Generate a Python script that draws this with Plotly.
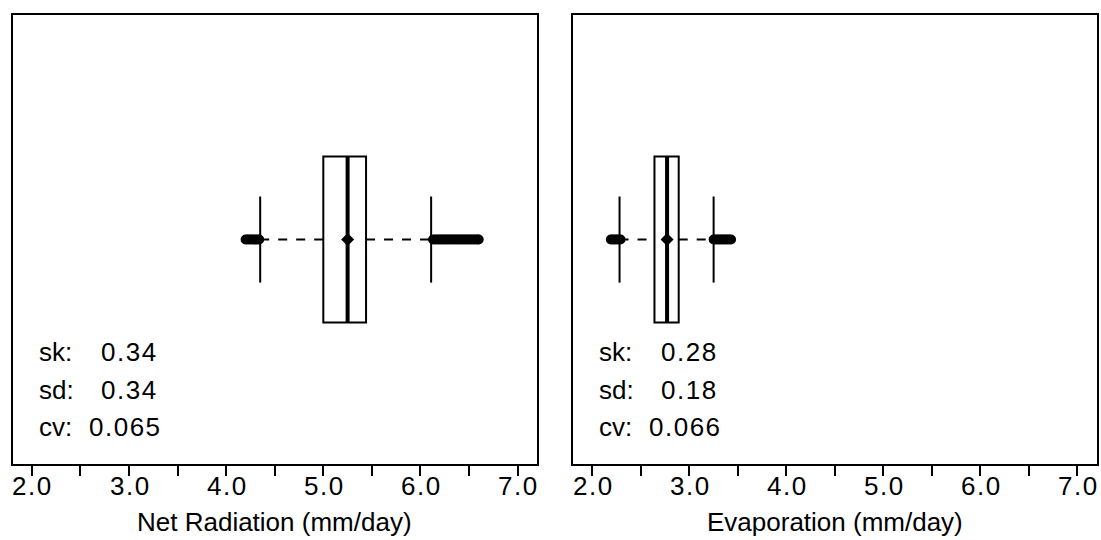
import plotly.graph_objects as go

# Summary statistics for the two distributions (mm/day)
panels = ["Net Radiation (mm/day)", "Evaporation (mm/day)"]

nr_q1, nr_median, nr_q3 = 5.00, 5.25, 5.44
nr_whisker_lo, nr_whisker_hi = 4.35, 6.11
nr_mean = 5.25
nr_outliers_lo = [4.20, 4.22, 4.24, 4.26, 4.28, 4.30, 4.32, 4.34]
nr_outliers_hi = [6.13, 6.15, 6.17, 6.19, 6.21, 6.23, 6.25, 6.27, 6.29, 6.31,
                  6.33, 6.35, 6.37, 6.39, 6.41, 6.43, 6.45, 6.47, 6.49, 6.51,
                  6.53, 6.55, 6.57, 6.59, 6.60]
nr_labels = ["sk:", "sd:", "cv:"]
nr_values = ["0.34", "0.34", "0.065"]

ev_q1, ev_median, ev_q3 = 2.64, 2.77, 2.89
ev_whisker_lo, ev_whisker_hi = 2.28, 3.25
ev_mean = 2.77
ev_outliers_lo = [2.19, 2.21, 2.23, 2.25, 2.27, 2.29]
ev_outliers_hi = [3.25, 3.27, 3.29, 3.31, 3.33, 3.35, 3.37, 3.39, 3.41, 3.43]
ev_labels = ["sk:", "sd:", "cv:"]
ev_values = ["0.28", "0.18", "0.066"]

tick_vals = [2.0, 3.0, 4.0, 5.0, 6.0, 7.0]
tick_text = ["2.0", "3.0", "4.0", "5.0", "6.0", "7.0"]
minor_tick_vals = [2.5, 3.5, 4.5, 5.5, 6.5]

FONT = "Liberation Sans, Arial, sans-serif"
BLACK = "#000000"
FS = 26


def wide(s):
    """Numbers are set slightly spaced out."""
    return f'<span style="letter-spacing:1.5px">{s}</span>'


datasets = [
    dict(q1=nr_q1, med=nr_median, q3=nr_q3, lo=nr_whisker_lo, hi=nr_whisker_hi,
         mean=nr_mean, out_lo=nr_outliers_lo, out_hi=nr_outliers_hi,
         labels=nr_labels, values=nr_values),
    dict(q1=ev_q1, med=ev_median, q3=ev_q3, lo=ev_whisker_lo, hi=ev_whisker_hi,
         mean=ev_mean, out_lo=ev_outliers_lo, out_hi=ev_outliers_hi,
         labels=ev_labels, values=ev_values),
]

fig = go.Figure()
shapes = []
annotations = []

W, H = 1101, 540
x_domains = [[12.5 / W, 537.0 / W], [573.0 / W, 1096.7 / W]]
y_domain = [(H - 464.0) / H, (H - 15.0) / H]
TICKLABEL_Y = (H - 486.0) / H
TITLE_Y = (H - 522.0) / H

Y_MID = 0.5
BOX_HALF = 0.185
CAP_HALF = 0.096

for i, d in enumerate(datasets):
    xa = "x" if i == 0 else "x2"
    ya = "y" if i == 0 else "y2"
    xdom = f"{xa} domain"
    ydom = f"{ya} domain"

    # box
    shapes.append(dict(type="rect", xref=xa, yref=ya, x0=d["q1"], x1=d["q3"],
                       y0=Y_MID - BOX_HALF, y1=Y_MID + BOX_HALF,
                       line=dict(color=BLACK, width=2), fillcolor="rgba(0,0,0,0)"))
    # median
    shapes.append(dict(type="line", xref=xa, yref=ya, x0=d["med"], x1=d["med"],
                       y0=Y_MID - BOX_HALF, y1=Y_MID + BOX_HALF,
                       line=dict(color=BLACK, width=4)))
    # dashed whiskers
    for a, b in [(d["lo"], d["q1"]), (d["q3"], d["hi"])]:
        shapes.append(dict(type="line", xref=xa, yref=ya, x0=a, x1=b,
                           y0=Y_MID, y1=Y_MID,
                           line=dict(color=BLACK, width=2, dash="dash")))
    # whisker caps
    for v in (d["lo"], d["hi"]):
        shapes.append(dict(type="line", xref=xa, yref=ya, x0=v, x1=v,
                           y0=Y_MID - CAP_HALF, y1=Y_MID + CAP_HALF,
                           line=dict(color=BLACK, width=2)))

    # outliers
    outs = d["out_lo"] + d["out_hi"]
    fig.add_trace(go.Scatter(
        x=outs, y=[Y_MID] * len(outs), xaxis=xa, yaxis=ya, mode="markers",
        marker=dict(symbol="circle-open", size=7, color=BLACK,
                    line=dict(width=3, color=BLACK)),
        showlegend=False, hoverinfo="x"))
    # mean
    fig.add_trace(go.Scatter(
        x=[d["mean"]], y=[Y_MID], xaxis=xa, yaxis=ya, mode="markers",
        marker=dict(symbol="diamond", size=10, color=BLACK),
        showlegend=False, hoverinfo="x"))

    # statistics text
    rows_y = [352, 390, 427]
    for lab, val, py in zip(d["labels"], d["values"], rows_y):
        yd = (464.0 - py) / (464.0 - 15.0)
        annotations.append(dict(xref=xdom, yref=ydom, x=24.0 / 524.5, y=yd,
                                text=lab, showarrow=False, xanchor="left",
                                yanchor="middle",
                                font=dict(family=FONT, size=FS, color=BLACK)))
        vx = 74.0 if len(val) > 4 else 86.0
        annotations.append(dict(xref=xdom, yref=ydom, x=vx / 524.5, y=yd,
                                text=wide(val), showarrow=False, xanchor="left",
                                yanchor="middle",
                                font=dict(family=FONT, size=FS, color=BLACK)))

    # tick labels placed along the axis
    for tv, tt in zip(tick_vals, tick_text):
        annotations.append(dict(xref=xa, yref="paper", x=tv, y=TICKLABEL_Y,
                                text=wide(tt), showarrow=False, xanchor="center",
                                yanchor="middle", xshift=1,
                                font=dict(family=FONT, size=FS, color=BLACK)))
    # axis title
    annotations.append(dict(xref=xdom, yref="paper", x=0.5, y=TITLE_Y,
                            text=panels[i], showarrow=False, xanchor="center",
                            yanchor="middle",
                            font=dict(family=FONT, size=FS, color=BLACK)))

axis_common = dict(range=[1.8, 7.2], tickvals=tick_vals, showticklabels=False,
                   ticks="outside", ticklen=10, tickwidth=2, tickcolor=BLACK,
                   minor=dict(tickvals=minor_tick_vals, ticks="outside",
                              ticklen=10, tickwidth=2, tickcolor=BLACK),
                   showline=True, linewidth=2, linecolor=BLACK, mirror=True,
                   showgrid=False, zeroline=False)
yaxis_common = dict(range=[0, 1], showticklabels=False, ticks="",
                    showline=True, linewidth=2, linecolor=BLACK, mirror=True,
                    showgrid=False, zeroline=False, domain=y_domain)

fig.update_layout(
    width=W, height=H,
    margin=dict(l=0, r=0, t=0, b=0),
    paper_bgcolor="white", plot_bgcolor="white",
    xaxis=dict(axis_common, domain=x_domains[0], anchor="y"),
    xaxis2=dict(axis_common, domain=x_domains[1], anchor="y2"),
    yaxis=dict(yaxis_common, anchor="x"),
    yaxis2=dict(yaxis_common, anchor="x2"),
    shapes=shapes,
    annotations=annotations,
)

fig.write_html("out.html")
